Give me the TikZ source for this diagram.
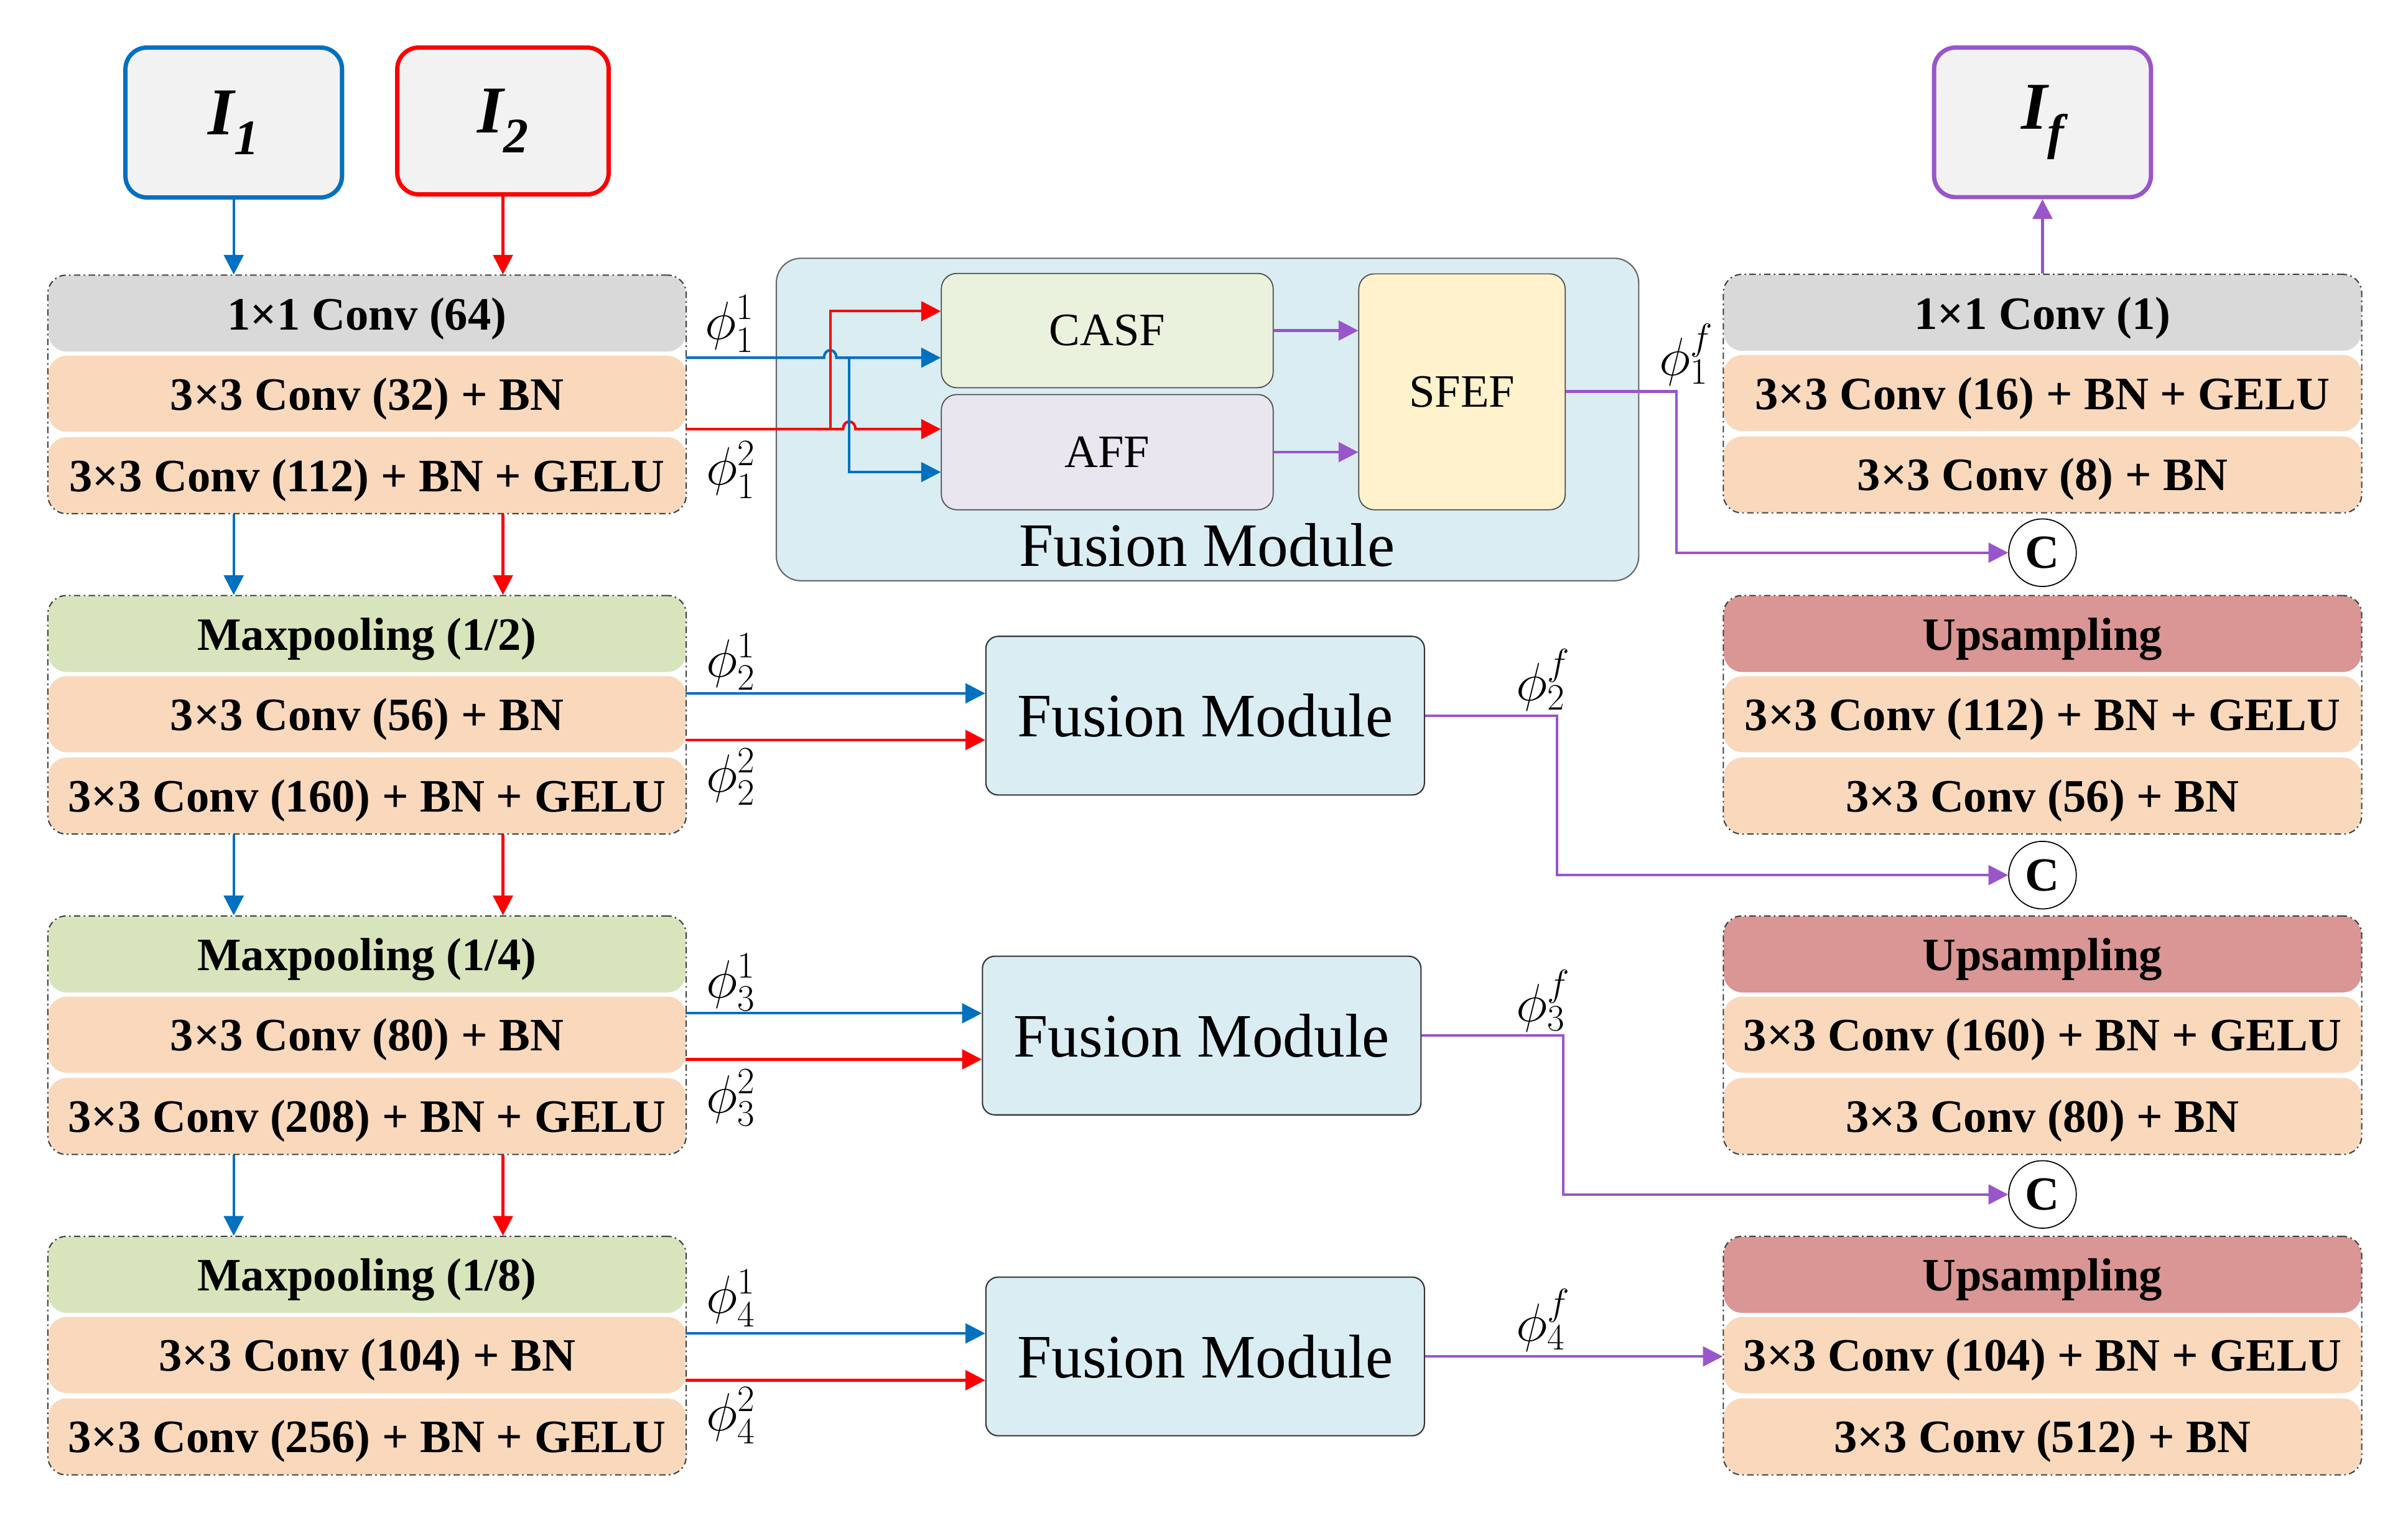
\documentclass[tikz,border=0pt]{standalone}
\usepackage{fontspec}
\setmainfont{Liberation Serif}
\usetikzlibrary{arrows.meta,fit}
\definecolor{cgray}{HTML}{D9D9D9}
\definecolor{cpeach}{HTML}{F9D8BC}
\definecolor{cgreen}{HTML}{D8E4BC}
\definecolor{cup}{HTML}{D99694}
\definecolor{cfm}{HTML}{DAEDF3}
\definecolor{ccasf}{HTML}{EAF1DD}
\definecolor{caff}{HTML}{EAE6EF}
\definecolor{csfef}{HTML}{FFF2CC}
\definecolor{cibox}{HTML}{F2F2F2}
\definecolor{cblue}{HTML}{0070C0}
\definecolor{cred}{HTML}{FF0000}
\definecolor{cpurp}{HTML}{9955CC}
\newcommand\blkfont{\fontsize{21.5}{24}\selectfont\bfseries}
\newcommand\fmfont{\fontsize{28.6}{32}\selectfont}
\newcommand\smfont{\fontsize{21.5}{24}\selectfont}
\newcommand\phifont{\fontsize{24}{26}\selectfont}
\newcommand\ifont{\fontsize{31}{34}\selectfont\bfseries\itshape}
\newcommand\isub[1]{\raisebox{-0.3em}{\fontsize{23}{24}\selectfont\bfseries\itshape #1}}
\newcommand\mkgroup[7]{%
  \node[rowbox, fill=#4] (#1a) at (#2, #3+24.75) {#5};
  \node[rowbox, fill=cpeach] (#1b) at (#2, #3+77) {#6};
  \node[rowbox, fill=cpeach] (#1c) at (#2, #3+130) {#7};
  \node[grpbox, fit=(#1a)(#1b)(#1c)] (#1) {};
}
\begin{document}
\begin{tikzpicture}[x=0.025cm,y=-0.025cm,
  rowbox/.style={minimum width=10.375cm, minimum height=1.2375cm, inner sep=0pt, text height=15pt, text depth=0pt, rounded corners=0.3cm, font=\blkfont},
  grpbox/.style={draw=black!75, line width=0.6pt, dash pattern=on 3pt off 1.5pt on 0.8pt off 1.5pt, rounded corners=0.3cm, inner sep=0pt},
  ibox/.style={fill=cibox, line width=2pt, rounded corners=0.35cm, inner sep=0pt, font=\ifont},
  fmbox/.style={fill=cfm, draw=black!80, line width=0.6pt, rounded corners=0.2cm, minimum width=7.1375cm, minimum height=2.5825cm, inner sep=0pt, font=\fmfont},
  subbox/.style={draw=black!70, line width=0.5pt, rounded corners=0.25cm, inner sep=0pt, font=\smfont},
  cnode/.style={circle, draw=black, fill=white, line width=0.5pt, minimum size=1.1cm, inner sep=0pt, font=\fontsize{22}{24}\selectfont\bfseries},
  phil/.style={inner sep=0pt, font=\phifont},
  tipA/.style={-{Triangle[length=0.32cm,width=0.32cm]}},
  barr/.style={draw=cblue, line width=1.2pt, tipA},
  rarr/.style={draw=cred, line width=1.2pt, tipA},
  parr/.style={draw=cpurp, line width=1.2pt, tipA},
  bline/.style={draw=cblue, line width=1.2pt},
  rline/.style={draw=cred, line width=1.2pt}
]
\useasboundingbox (0,0) rectangle (1568,992);

% input / output boxes
\node[ibox, draw=cblue, minimum width=3.525cm, minimum height=2.44cm] (I1) at (152.2,79.8) {I\isub{1}};
\node[ibox, draw=cred, minimum width=3.44cm, minimum height=2.39cm] (I2) at (327.5,78.8) {I\isub{2}};
\node[ibox, draw=cpurp, minimum width=3.53cm, minimum height=2.435cm] (If) at (1330,79.7) {I\isub{f}};

% encoder (left)
\mkgroup{L1}{239}{179.5}{cgray}{1×1 Conv (64)}{3×3 Conv (32) + BN}{3×3 Conv (112) + BN + GELU}
\mkgroup{L2}{239}{388.2}{cgreen}{Maxpooling (1/2)}{3×3 Conv (56) + BN}{3×3 Conv (160) + BN + GELU}
\mkgroup{L3}{239}{596.9}{cgreen}{Maxpooling (1/4)}{3×3 Conv (80) + BN}{3×3 Conv (208) + BN + GELU}
\mkgroup{L4}{239}{805.6}{cgreen}{Maxpooling (1/8)}{3×3 Conv (104) + BN}{3×3 Conv (256) + BN + GELU}

% decoder (right)
\mkgroup{R1}{1330}{179}{cgray}{1×1 Conv (1)}{3×3 Conv (16) + BN + GELU}{3×3 Conv (8) + BN}
\mkgroup{R2}{1330}{388.2}{cup}{Upsampling}{3×3 Conv (112) + BN + GELU}{3×3 Conv (56) + BN}
\mkgroup{R3}{1330}{596.9}{cup}{Upsampling}{3×3 Conv (160) + BN + GELU}{3×3 Conv (80) + BN}
\mkgroup{R4}{1330}{805.6}{cup}{Upsampling}{3×3 Conv (104) + BN + GELU}{3×3 Conv (512) + BN}

% concat nodes
\node[cnode] (C1) at (1330,360) {C};
\node[cnode] (C2) at (1330,570) {C};
\node[cnode] (C3) at (1330,778) {C};

% big fusion module
\node[fill=cfm, draw=black!60, line width=0.6pt, rounded corners=0.4cm, minimum width=14.035cm, minimum height=5.25cm, inner sep=0pt] (FM1) at (786.3,273.25) {};
\node[subbox, fill=ccasf, minimum width=5.4cm, minimum height=1.86cm] (CASF) at (721,215.3) {CASF};
\node[subbox, fill=caff, minimum width=5.4cm, minimum height=1.875cm] (AFF) at (721,294.5) {AFF};
\node[subbox, fill=csfef, minimum width=3.36cm, minimum height=3.84cm] (SFEF) at (952,255.2) {SFEF};
\node[inner sep=0pt, font=\fmfont] (FM1t) at (786,355) {Fusion Module};

% other fusion modules
\node[fmbox] (FM2) at (784.75,466.15) {Fusion Module};
\node[fmbox] (FM3) at (782.5,674.5) {Fusion Module};
\node[fmbox] (FM4) at (784.75,883.5) {Fusion Module};

% vertical flows
\draw[barr] (I1.south) -- (I1.south |- L1.north);
\draw[rarr] (I2.south) -- (I2.south |- L1.north);
\foreach \a/\b in {L1/L2,L2/L3,L3/L4}{
  \draw[barr] (\a.south -| I1.south) -- (\b.north -| I1.south);
  \draw[rarr] (\a.south -| I2.south) -- (\b.north -| I2.south);
}
\draw[parr] (R1.north) -- (If.south);

% stage 1 inside fusion module
\coordinate (b1) at (446.5,233);
\coordinate (r1) at (446.5,279.5);
\coordinate (bj) at (553,233);
\coordinate (rj) at (540.6,279.5);
\coordinate (casfr) at (600,202.7);
\coordinate (affb) at (600,307.5);
\draw[barr] (b1) -- (536.6,233) .. controls (536.6,226.5) and (544.6,226.5) .. (544.6,233) -- (b1 -| CASF.west);
\draw[rarr] (r1) -- (549,279.5) .. controls (549,273) and (557,273) .. (557,279.5) -- (r1 -| AFF.west);
\draw[rarr] (rj) |- (casfr -| CASF.west);
\draw[barr] (bj) |- (affb -| AFF.west);
\draw[parr] (CASF.east) -- (CASF.east -| SFEF.west);
\draw[parr] (AFF.east) -- (AFF.east -| SFEF.west);
\coordinate (k1) at (1091.5,255);
\draw[parr] (SFEF.east |- k1) -- (k1) |- (C1.west);

% stage 2
\coordinate (b2) at (446.5,451.6);
\coordinate (r2) at (446.5,482);
\coordinate (k2) at (1014,466.15);
\draw[barr] (b2) -- (b2 -| FM2.west);
\draw[rarr] (r2) -- (r2 -| FM2.west);
\draw[parr] (FM2.east) -- (k2) |- (C2.west);

% stage 3
\coordinate (b3) at (446.5,660);
\coordinate (r3) at (446.5,690);
\coordinate (k3) at (1018,674.5);
\draw[barr] (b3) -- (b3 -| FM3.west);
\draw[rarr] (r3) -- (r3 -| FM3.west);
\draw[parr] (FM3.east) -- (k3) |- (C3.west);

% stage 4
\coordinate (b4) at (446.5,868.5);
\coordinate (r4) at (446.5,899);
\draw[barr] (b4) -- (b4 -| FM4.west);
\draw[rarr] (r4) -- (r4 -| FM4.west);
\draw[parr] (FM4.east) -- (FM4.east -| R4.west);

% labels
\node[phil] (p11) at (475,211) {$\phi_1^1$};
\node[phil] (p12) at (476,306) {$\phi_1^2$};
\node[phil] (p1f) at (1098,231) {$\phi_1^f$};
\node[phil] (p21) at (476,431) {$\phi_2^1$};
\node[phil] (p22) at (476,506) {$\phi_2^2$};
\node[phil] (p2f) at (1005,443) {$\phi_2^f$};
\node[phil] (p31) at (476,640) {$\phi_3^1$};
\node[phil] (p32) at (476,715) {$\phi_3^2$};
\node[phil] (p3f) at (1005,652) {$\phi_3^f$};
\node[phil] (p41) at (476,845.5) {$\phi_4^1$};
\node[phil] (p42) at (476,922) {$\phi_4^2$};
\node[phil] (p4f) at (1005,860) {$\phi_4^f$};
\end{tikzpicture}
\end{document}
